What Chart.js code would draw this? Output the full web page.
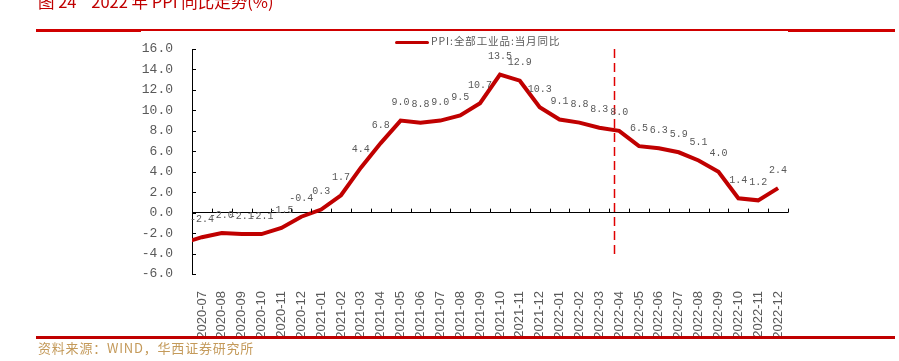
<!DOCTYPE html>
<html>
<head>
<meta charset="utf-8">
<script src="https://cdn.jsdelivr.net/npm/chart.js@4.4.1/dist/chart.umd.min.js"></script>
<style>
    body { margin: 0; width: 899px; height: 361px; overflow: hidden; background: #fff; position: relative; font-family: "Noto Sans CJK SC", sans-serif; }
    #chart { position: absolute; left: 0; top: 0; }
    #title { position: absolute; left: 38px; top: -9px; font-size: 16.5px; line-height: 20px; color: #c00000; white-space: pre; }
    .rule { position: absolute; background: #d00000; }
    #legend { position: absolute; left: 395px; top: 34px; font-size: 10.5px; line-height: 14px; color: #595959; white-space: nowrap; letter-spacing: 0.9px; }
    #legend span { display: inline-block; width: 34px; height: 3px; background: #c00000; vertical-align: middle; margin-right: 2px; border-radius: 2px; }
    #source { position: absolute; left: 38px; top: 339px; font-size: 13px; line-height: 17px; color: #c49a5a; white-space: pre; letter-spacing: 0.8px; }
</style>
</head>
<body>
<canvas id="chart" width="899" height="361"></canvas>
<div id="title">图 24    2022 年 PPI 同比走势(%)</div>
<div class="rule" style="left:36px; top:29px; width:859px; height:2px;"></div>
<div class="rule" style="left:36px; top:30px; width:105px; height:2px;"></div>
<div class="rule" style="left:788px; top:30px; width:107px; height:2px;"></div>
<div class="rule" style="left:36px; top:336px; width:859px; height:3px; background:#c00000;"></div>
<div id="legend"><span></span>PPI:全部工业品:当月同比</div>
<div id="source">资料来源：WIND，华西证券研究所</div>
<script>
    // 2020-06 is only there so the line runs in from the axis like the original
    const months = [
        '2020-06', '2020-07', '2020-08', '2020-09', '2020-10', '2020-11', '2020-12',
        '2021-01', '2021-02', '2021-03', '2021-04', '2021-05', '2021-06',
        '2021-07', '2021-08', '2021-09', '2021-10', '2021-11', '2021-12',
        '2022-01', '2022-02', '2022-03', '2022-04', '2022-05', '2022-06',
        '2022-07', '2022-08', '2022-09', '2022-10', '2022-11', '2022-12'
    ];
    const ppi = [
        -3.0, -2.4, -2.0, -2.1, -2.1, -1.5, -0.4,
        0.3, 1.7, 4.4, 6.8, 9.0, 8.8,
        9.0, 9.5, 10.7, 13.5, 12.9, 10.3,
        9.1, 8.8, 8.3, 8.0, 6.5, 6.3,
        5.9, 5.1, 4.0, 1.4, 1.2, 2.4
    ];
    const firstMonth = '2020-07';
    const yMin = -6, yMax = 16, yStep = 2;
    const markMonth = '2022-04';
    const markTop = 16, markBottom = -4.4;

    const textGray = '#595959';

    // tick marks, vertical dashed marker and value labels
    const extras = {
        id: 'extras',
        afterDatasetsDraw(chart) {
            const ctx = chart.ctx;
            const xs = chart.scales.x;
            const ys = chart.scales.y;
            const area = chart.chartArea;
            const first = months.indexOf(firstMonth);
            const step = xs.getPixelForValue(first + 1) - xs.getPixelForValue(first);
            const y0 = ys.getPixelForValue(0);

            ctx.save();
            ctx.strokeStyle = '#000';
            ctx.lineWidth = 1;
            ctx.beginPath();
            for (let i = first; i < months.length; i++) {
                let x = Math.round(xs.getPixelForValue(i) + step / 2) + 0.5;
                ctx.moveTo(x, y0);
                ctx.lineTo(x, y0 - 4);
            }
            ys.ticks.forEach(t => {
                let y = Math.round(ys.getPixelForValue(t.value)) + 0.5;
                ctx.moveTo(area.left, y);
                ctx.lineTo(area.left + 4, y);
            });
            ctx.stroke();

            let mi = months.indexOf(markMonth);
            let mx = Math.round(xs.getPixelForValue(mi) - step / 4) + 0.5;
            ctx.strokeStyle = '#e00000';
            ctx.lineWidth = 1.5;
            ctx.setLineDash([9, 5]);
            ctx.beginPath();
            ctx.moveTo(mx, ys.getPixelForValue(markTop));
            ctx.lineTo(mx, ys.getPixelForValue(markBottom));
            ctx.stroke();
            ctx.setLineDash([]);

            ctx.fillStyle = textGray;
            ctx.font = '10px "Liberation Mono", monospace';
            ctx.textAlign = 'center';
            ctx.textBaseline = 'middle';
            for (let i = first; i < months.length; i++) {
                let x = xs.getPixelForValue(i);
                let y = ys.getPixelForValue(ppi[i]);
                ctx.fillText(ppi[i].toFixed(1), x, y - 18);
            }
            ctx.restore();
        }
    };

    new Chart(document.getElementById('chart'), {
        type: 'line',
        data: {
            labels: months,
            datasets: [{
                label: 'PPI:全部工业品:当月同比',
                data: ppi,
                borderColor: '#c00000',
                borderWidth: 4,
                pointRadius: 0,
                tension: 0,
                clip: 0
            }]
        },
        options: {
            responsive: false,
            animation: false,
            devicePixelRatio: 1,
            layout: {
                padding: { left: 130, right: 111, top: 49, bottom: 0 }
            },
            plugins: {
                legend: { display: false },
                tooltip: { enabled: false }
            },
            scales: {
                x: {
                    type: 'category',
                    min: firstMonth,
                    offset: true,
                    grid: { display: false },
                    border: { display: false },
                    ticks: {
                        autoSkip: false,
                        minRotation: 90,
                        maxRotation: 90,
                        padding: 9,
                        color: textGray,
                        font: { family: 'Liberation Sans', size: 13 }
                    },
                    afterFit: (scale) => { scale.height = 87; }
                },
                y: {
                    min: yMin,
                    max: yMax,
                    grid: {
                        drawTicks: false,
                        color: (c) => (c.tick && c.tick.value === 0) ? '#000' : 'rgba(0,0,0,0)',
                        lineWidth: 1
                    },
                    border: { color: '#000', width: 1 },
                    ticks: {
                        stepSize: yStep,
                        padding: 19,
                        color: textGray,
                        font: { family: 'Liberation Mono', size: 13 },
                        callback: (v) => v.toFixed(1)
                    },
                    afterFit: (scale) => { scale.width = 62; }
                }
            }
        },
        plugins: [extras]
    });
</script>
</body>
</html>
